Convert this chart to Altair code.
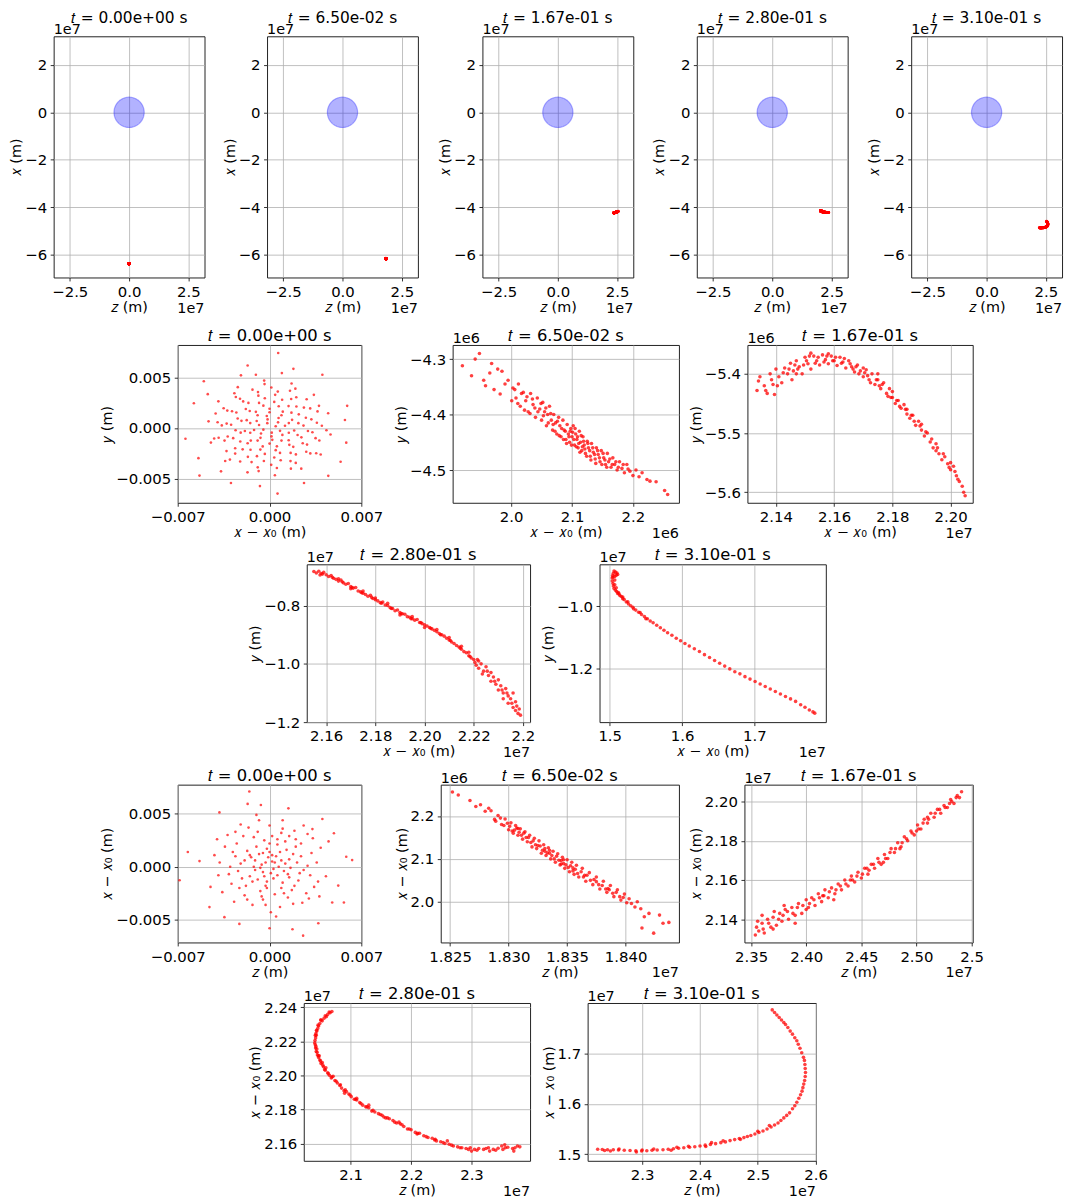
import altair as alt
import numpy as np
import pandas as pd

FONT = "DejaVu Sans"
X0 = -6.371e7          # initial x of the bunch (m)
R_EARTH = 6.371e6      # m

TITLES = ["𝑡 = 0.00e+00 s", "𝑡 = 6.50e-02 s", "𝑡 = 1.67e-01 s",
          "𝑡 = 2.80e-01 s", "𝑡 = 3.10e-01 s"]

# ---------------- t = 0 : (x - x0, y) in mm ----------------
T0_XY = [
    [0.47, 0.17], [-0.17, 0.47], [-0.47, -0.17], [0.17, -0.47],
    [0.65, 0.55], [-0.15, 0.84], [-0.80, 0.29], [-0.65, -0.55], [0.15, -0.84], [0.80, -0.29],
    [1.18, 0.21], [0.69, 0.98], [-0.21, 1.18], [-0.98, 0.69], [-1.18, -0.21], [-0.69, -0.98], [0.21, -1.18], [0.98, -0.69],
    [1.47, 0.48], [0.91, 1.25], [0.0, 1.55], [-0.91, 1.25], [-1.47, 0.48], [-1.47, -0.48], [-0.91, -1.25], [0.0, -1.55], [0.91, -1.25], [1.47, -0.48],
    [1.72, 0.80], [1.01, 1.61], [0.0, 1.90], [-1.04, 1.59], [-1.74, 0.77], [-1.88, -0.30], [-1.43, -1.25], [-0.52, -1.83], [0.56, -1.82], [1.46, -1.22], [1.88, -0.26],
    [2.20, 0.47], [1.67, 1.51], [0.70, 2.14], [-0.47, 2.20], [-1.51, 1.67], [-2.14, 0.70], [-2.20, -0.47], [-1.67, -1.51], [-0.70, -2.14], [0.47, -2.20], [1.51, -1.67], [2.14, -0.70],
    [2.59, 0.23], [2.23, 1.34], [1.45, 2.16], [0.36, 2.57], [-0.80, 2.47], [-1.81, 1.87], [-2.43, 0.93], [-2.59, -0.23], [-2.23, -1.34], [-1.45, -2.16], [-0.36, -2.57], [0.80, -2.47], [1.81, -1.87], [2.43, -0.93],
    [2.77, 1.01], [2.05, 2.12], [0.96, 2.79], [-0.36, 2.93], [-1.61, 2.47], [-2.53, 1.52], [-2.93, 0.31], [-2.77, -1.01], [-2.05, -2.12], [-0.96, -2.79], [0.36, -2.93], [1.61, -2.47], [2.53, -1.52], [2.93, -0.31],
    [3.19, 0.85], [2.62, 2.01], [1.65, 2.86], [0.43, 3.27], [-0.85, 3.19], [-2.01, 2.62], [-2.86, 1.65], [-3.27, 0.43], [-3.19, -0.85], [-2.62, -2.01], [-1.65, -2.86], [-0.43, -3.27], [0.85, -3.19], [2.01, -2.62], [2.86, -1.65], [3.27, -0.43],
    [3.61, 0.51], [3.10, 1.93], [2.04, 3.03], [0.63, 3.59], [-0.88, 3.54], [-2.25, 2.88], [-3.22, 1.71], [-3.64, 0.25], [-3.43, -1.25], [-2.62, -2.54], [-1.37, -3.38], [0.13, -3.65], [1.60, -3.28], [2.80, -2.35], [3.51, -1.01],
    [3.99, 0.21], [3.66, 1.63], [2.83, 2.83], [1.56, 3.68], [0.14, 4.00], [-1.30, 3.78], [-2.57, 3.06], [-3.50, 1.94], [-3.96, 0.56], [-3.88, -0.97], [-3.28, -2.29], [-2.24, -3.32], [-0.90, -3.90], [0.56, -3.96], [2.00, -3.46], [3.11, -2.52], [3.80, -1.24],
    [3.77, 2.18], [1.97, 3.88], [-0.38, 4.33], [-2.68, 3.43], [-4.11, 1.42], [-4.22, -1.05], [-3.02, -3.13], [-0.83, -4.27], [1.63, -4.03], [3.56, -2.50], [4.34, -0.23],
    [4.47, 1.45], [3.38, 3.27], [1.68, 4.39], [-0.41, 4.68], [-2.42, 4.03], [-3.90, 2.63], [-4.65, 0.65], [-4.47, -1.45], [-3.38, -3.27], [-1.68, -4.39], [0.41, -4.68], [2.42, -4.03], [3.90, -2.63], [4.65, -0.65],
    [0.66, 7.40], [-1.67, 6.17], [1.82, 5.84], [-2.18, 5.20], [4.03, 5.26], [-5.01, 4.61], [0.94, 5.42], [-1.04, 5.26],
    [-6.41, -1.07], [-5.77, 2.44], [5.92, 2.18], [5.75, 0.78], [5.85, -1.46], [5.42, -3.34], [-5.34, -4.71], [-2.94, -5.45],
    [-0.73, -5.75], [0.61, -6.49], [2.63, -5.45], [4.48, -4.74], [-3.70, -4.29], [-5.42, -2.99], [-4.71, 3.34],
]

# ---------------- t = 0 : (z, x - x0) in mm ----------------
T0_ZX = [
    [0.2, 0.5], [-0.8, 1.2], [1.1, -0.4], [-1.5, -0.9], [0.6, 2.1], [-2.2, 0.3], [2.4, 1.0], [-0.3, -1.8], [1.7, -2.2], [-1.2, 2.8],
    [0.9, 3.2], [-2.9, -1.6], [3.1, -0.8], [-0.5, -3.1], [2.0, 2.6], [-3.4, 1.9], [0.1, -0.6], [-0.6, 0.2], [1.5, 0.7], [-1.9, -2.7],
    [2.8, -2.5], [-2.5, 2.2], [0.4, -2.6], [-1.1, -0.3], [1.3, 1.6], [-0.2, 1.7], [2.2, -1.3], [-3.0, 0.0], [3.6, 0.4], [-1.6, 3.7],
    [0.0, 3.9], [1.9, 3.4], [-2.7, -3.3], [0.8, -3.8], [2.5, -3.4], [-3.9, -0.8], [3.9, 1.8], [-0.9, -1.2], [0.5, 1.0], [-1.4, 0.9],
    [1.0, -1.5], [-0.4, 2.5], [2.9, 0.1], [-2.1, -1.1], [1.6, -0.1], [-0.7, -2.3], [0.3, -1.1], [-1.7, 1.5], [0.7, 0.0], [-0.1, 0.9],
    [1.2, 2.4], [-2.4, -0.4], [3.3, 2.7], [-3.2, 3.0], [2.6, 3.9], [-0.8, 4.4], [1.4, -2.9], [-1.3, -3.6], [0.1, -4.3], [3.4, -1.9],
    [-4.2, 1.1], [4.3, -0.9], [-3.6, -2.4], [2.1, 0.4], [-0.5, -0.5], [0.9, 0.6], [-1.0, 1.9], [1.8, 1.2], [-2.0, 2.9], [0.2, 2.9],
    [-0.2, -2.0], [1.1, -2.5], [-2.6, 1.0], [2.3, -0.6], [-1.8, -1.8], [0.6, -0.8], [-0.3, 0.4], [1.5, -1.0], [-1.2, 0.0], [0.0, 1.4],
    [4.5, 2.4], [-4.5, -1.9], [1.0, 4.4], [-2.2, 4.0], [3.0, -3.0],
    [0.3, -0.2], [-0.4, -0.9], [0.8, 1.4], [-1.1, 0.6], [1.4, -0.7], [-0.2, -1.4], [0.6, 2.6], [-1.5, 1.1], [1.9, -1.8], [-2.3, -2.0],
    [2.6, -0.3], [-0.9, 3.3], [1.5, 2.9], [-2.8, 1.4], [3.2, 1.3], [-0.6, -2.8], [0.9, -2.0], [-1.9, 0.6], [2.0, 1.9], [-3.1, -0.7],
    [0.0, 2.2], [1.2, 0.3], [-0.7, -0.1], [0.4, 0.4], [-1.3, -1.4], [2.4, 2.2], [-3.8, 0.4], [3.7, -1.4], [-1.7, -3.1], [1.8, -3.5],
    [0.5, -4.7], [-2.6, 3.3], [2.9, 3.1], [-4.0, 2.6], [3.8, -2.8], [-0.3, -3.6], [1.0, 3.6], [-1.0, 4.9], [0.2, 1.1], [-0.5, 1.3],
    [-1.54, 7.11], [-1.67, 5.94], [-0.66, 5.84], [1.44, 5.52], [-3.82, 5.14], [-6.23, 1.40], [-6.86, -1.27], [5.85, 0.95],
    [6.30, 0.63], [5.24, -1.78], [5.67, -3.37], [4.78, -3.37], [3.72, -5.33], [2.56, -6.51], [1.75, -5.90], [0.0, -5.81],
    [-2.30, -5.40], [-3.44, -4.76], [-4.58, -3.81], [-5.34, 0.54], [4.03, 4.51], [4.91, 3.17], [3.27, 3.56],
]

# ---------------- t = 6.50e-02 s : (x - x0, y) in 1e6 m ----------------
T1_XY = [
    [1.920, -4.312], [1.935, -4.330], [1.948, -4.290], [1.941, -4.300], [1.955, -4.338], [1.965, -4.325], [1.968, -4.308],
    [1.972, -4.355], [1.978, -4.318], [1.985, -4.322], [1.990, -4.345], [1.982, -4.363], [1.995, -4.338], [1.958, -4.348],
    [2.003, -4.352], [2.008, -4.370], [2.012, -4.345], [2.015, -4.385], [2.020, -4.360], [2.024, -4.375], [2.028, -4.395],
    [2.032, -4.362], [2.036, -4.382], [2.040, -4.405], [2.043, -4.370], [2.047, -4.390], [2.050, -4.410], [2.052, -4.378],
    [2.055, -4.395], [2.058, -4.420], [2.060, -4.400], [2.063, -4.385], [2.066, -4.410], [2.068, -4.428], [2.070, -4.400],
    [2.073, -4.415], [2.075, -4.435], [2.078, -4.405], [2.080, -4.420], [2.082, -4.440], [2.085, -4.410], [2.087, -4.428],
    [2.090, -4.445], [2.092, -4.418], [2.094, -4.435], [2.096, -4.450], [2.098, -4.425], [2.100, -4.440], [2.102, -4.420],
    [2.104, -4.455], [2.106, -4.435], [2.108, -4.445], [2.110, -4.460], [2.112, -4.430], [2.114, -4.450], [2.116, -4.465],
    [2.118, -4.440], [2.120, -4.455], [2.122, -4.470], [2.125, -4.448], [2.127, -4.460], [2.130, -4.475], [2.132, -4.452],
    [2.135, -4.468], [2.138, -4.480], [2.140, -4.460], [2.143, -4.472], [2.146, -4.485], [2.148, -4.465], [2.152, -4.478],
    [2.155, -4.490], [2.158, -4.470], [2.160, -4.485], [2.164, -4.495], [2.167, -4.478], [2.170, -4.490], [2.174, -4.500],
    [2.178, -4.485], [2.182, -4.497], [2.186, -4.505], [2.190, -4.490], [2.195, -4.502], [2.200, -4.510], [2.205, -4.500],
    [2.210, -4.512], [2.215, -4.505], [2.223, -4.517], [2.228, -4.520], [2.238, -4.521], [2.252, -4.537], [2.257, -4.544],
    [2.001, -4.375], [2.006, -4.355], [2.011, -4.380], [2.017, -4.362], [2.022, -4.392], [2.026, -4.368], [2.031, -4.398],
    [2.035, -4.372], [2.039, -4.388], [2.044, -4.395], [2.049, -4.380], [2.053, -4.402], [2.057, -4.388], [2.061, -4.415],
    [2.065, -4.398], [2.069, -4.418], [2.072, -4.430], [2.076, -4.412], [2.079, -4.438], [2.083, -4.425], [2.086, -4.445],
    [2.089, -4.430], [2.091, -4.452], [2.095, -4.440], [2.097, -4.430], [2.099, -4.455], [2.101, -4.432], [2.103, -4.445],
    [2.105, -4.425], [2.107, -4.458], [2.109, -4.440], [2.111, -4.452], [2.113, -4.468], [2.115, -4.438], [2.117, -4.458],
    [2.119, -4.448], [2.121, -4.462], [2.124, -4.475], [2.126, -4.452], [2.129, -4.465], [2.131, -4.482], [2.134, -4.460],
    [2.137, -4.472], [2.139, -4.488], [2.142, -4.465], [2.145, -4.478], [2.149, -4.490], [2.151, -4.470], [2.154, -4.482],
    [2.157, -4.495], [2.162, -4.480], [2.166, -4.490], [2.172, -4.485], [2.176, -4.495], [2.184, -4.490], [2.192, -4.498],
]

# ---------------- t = 6.50e-02 s : (z in 1e7 m, x - x0 in 1e6 m) ----------------
T1_ZX = [
    [1.8252, 2.256], [1.8257, 2.249], [1.8267, 2.236], [1.8272, 2.222], [1.8276, 2.226], [1.8280, 2.211], [1.8283, 2.218],
    [1.8285, 2.212], [1.8288, 2.192], [1.8291, 2.201], [1.8294, 2.180], [1.8297, 2.193], [1.8300, 2.168], [1.8302, 2.184],
    [1.8304, 2.160], [1.8306, 2.178], [1.8308, 2.155], [1.8310, 2.170], [1.8312, 2.146], [1.8314, 2.163], [1.8316, 2.140],
    [1.8318, 2.155], [1.8320, 2.128], [1.8322, 2.148], [1.8324, 2.124], [1.8326, 2.142], [1.8328, 2.113], [1.8330, 2.133],
    [1.8332, 2.108], [1.8334, 2.126], [1.8336, 2.100], [1.8338, 2.118], [1.8340, 2.092], [1.8342, 2.112], [1.8344, 2.086],
    [1.8346, 2.104], [1.8348, 2.078], [1.8350, 2.098], [1.8352, 2.070], [1.8354, 2.092], [1.8356, 2.064], [1.8358, 2.085],
    [1.8360, 2.058], [1.8363, 2.078], [1.8366, 2.048], [1.8369, 2.068], [1.8372, 2.040], [1.8375, 2.058], [1.8378, 2.030],
    [1.8381, 2.048], [1.8384, 2.022], [1.8387, 2.038], [1.8390, 2.012], [1.8393, 2.028], [1.8396, 2.004], [1.8399, 2.018],
    [1.8315, 2.150], [1.8325, 2.131], [1.8335, 2.113], [1.8345, 2.096], [1.8355, 2.079], [1.8365, 2.062], [1.8305, 2.167],
    [1.8375, 2.047], [1.8385, 2.031], [1.8308, 2.171], [1.8331, 2.118], [1.8347, 2.089],
    [1.8403, 2.007], [1.8405, 1.996], [1.8408, 1.988], [1.8413, 1.984], [1.8416, 1.965], [1.8420, 1.973], [1.8424, 1.927],
    [1.8429, 1.969], [1.8432, 1.950], [1.8437, 1.952], [1.8414, 1.939], [1.8401, 1.998], [1.8410, 2.000],
    [1.8289, 2.188], [1.8293, 2.195], [1.8296, 2.178], [1.8299, 2.183], [1.8301, 2.176], [1.8303, 2.165], [1.8307, 2.172],
    [1.8309, 2.162], [1.8311, 2.155], [1.8313, 2.160], [1.8317, 2.150], [1.8319, 2.138], [1.8321, 2.142], [1.8323, 2.133],
    [1.8327, 2.130], [1.8329, 2.120], [1.8331, 2.124], [1.8333, 2.114], [1.8335, 2.120], [1.8337, 2.108], [1.8339, 2.100],
    [1.8341, 2.106], [1.8343, 2.097], [1.8345, 2.088], [1.8347, 2.098], [1.8349, 2.086], [1.8351, 2.080], [1.8353, 2.084],
    [1.8355, 2.072], [1.8357, 2.076], [1.8359, 2.066], [1.8362, 2.070], [1.8364, 2.058], [1.8367, 2.062], [1.8370, 2.050],
    [1.8373, 2.052], [1.8377, 2.040], [1.8380, 2.038], [1.8383, 2.030], [1.8386, 2.028], [1.8389, 2.020], [1.8392, 2.022],
    [1.8395, 2.012], [1.8398, 2.010],
]

# ---------------- t = 1.67e-01 s : (x - x0 in 1e7 m, y in 1e6 m) ----------------
T2_XY = [
    [2.1335, -5.428], [2.1340, -5.412], [2.1360, -5.420], [2.1370, -5.433], [2.1380, -5.400], [2.1390, -5.418], [2.1395, -5.435],
    [2.1400, -5.392], [2.1410, -5.405], [2.1420, -5.415], [2.1430, -5.390], [2.1440, -5.400], [2.1450, -5.382], [2.1455, -5.410],
    [2.1460, -5.395], [2.1470, -5.378], [2.1480, -5.388], [2.1490, -5.400], [2.1500, -5.372], [2.1510, -5.383], [2.1520, -5.392],
    [2.1530, -5.370], [2.1540, -5.378], [2.1550, -5.385], [2.1560, -5.368], [2.1570, -5.376], [2.1580, -5.383], [2.1590, -5.370],
    [2.1600, -5.378], [2.1610, -5.386], [2.1620, -5.372], [2.1630, -5.380], [2.1640, -5.390], [2.1650, -5.378], [2.1660, -5.388],
    [2.1670, -5.397], [2.1680, -5.385], [2.1690, -5.395], [2.1700, -5.405], [2.1710, -5.393], [2.1720, -5.410], [2.1730, -5.400],
    [2.1740, -5.418], [2.1750, -5.410], [2.1760, -5.425], [2.1770, -5.415], [2.1780, -5.433], [2.1790, -5.425], [2.1800, -5.440],
    [2.1810, -5.450], [2.1820, -5.445], [2.1830, -5.458], [2.1840, -5.452], [2.1850, -5.468], [2.1860, -5.475], [2.1870, -5.470],
    [2.1880, -5.487], [2.1890, -5.480], [2.1900, -5.495], [2.1910, -5.505], [2.1920, -5.500], [2.1930, -5.515], [2.1940, -5.525],
    [2.1950, -5.518], [2.1960, -5.535], [2.1970, -5.545], [2.1980, -5.540], [2.1990, -5.552], [2.2000, -5.562], [2.2010, -5.556],
    [2.2020, -5.572], [2.2030, -5.582], [2.2040, -5.590], [2.2045, -5.600], [2.2050, -5.606],
    [2.1470, -5.400], [2.1520, -5.365], [2.1580, -5.366], [2.1700, -5.390], [2.1750, -5.400], [2.1800, -5.430], [2.1850, -5.460],
    [2.1900, -5.485], [2.1950, -5.530], [2.2000, -5.550],
    [2.1345, -5.405], [2.1365, -5.428], [2.1385, -5.410], [2.1405, -5.420], [2.1425, -5.398], [2.1445, -5.392], [2.1465, -5.385],
    [2.1475, -5.392], [2.1495, -5.385], [2.1505, -5.378], [2.1515, -5.370], [2.1535, -5.382], [2.1545, -5.372], [2.1565, -5.380],
    [2.1575, -5.370], [2.1595, -5.378], [2.1605, -5.372], [2.1625, -5.382], [2.1635, -5.374], [2.1655, -5.383], [2.1665, -5.392],
    [2.1675, -5.388], [2.1685, -5.400], [2.1705, -5.398], [2.1715, -5.403], [2.1725, -5.415], [2.1745, -5.410], [2.1755, -5.420],
    [2.1765, -5.418], [2.1785, -5.438], [2.1795, -5.440], [2.1815, -5.445], [2.1825, -5.455], [2.1845, -5.460], [2.1865, -5.470],
    [2.1875, -5.480], [2.1895, -5.488], [2.1915, -5.498], [2.1935, -5.510], [2.1955, -5.525], [2.1975, -5.535], [2.1995, -5.558],
    [2.2015, -5.565], [2.2025, -5.578],
]

# ---------------- t = 1.67e-01 s : (z, x - x0) in 1e7 m ----------------
T2_ZX = [
    [2.3539, 2.132], [2.355, 2.136], [2.357, 2.134], [2.360, 2.138], [2.362, 2.133], [2.365, 2.140], [2.368, 2.136], [2.370, 2.141],
    [2.373, 2.137], [2.376, 2.143], [2.378, 2.139], [2.381, 2.145], [2.384, 2.140], [2.387, 2.146], [2.390, 2.142], [2.393, 2.148],
    [2.396, 2.143], [2.400, 2.150], [2.402, 2.146], [2.405, 2.151], [2.408, 2.147], [2.411, 2.153], [2.414, 2.149], [2.417, 2.155],
    [2.420, 2.151], [2.423, 2.156], [2.426, 2.153], [2.429, 2.158], [2.432, 2.155], [2.435, 2.160], [2.438, 2.157], [2.441, 2.162],
    [2.444, 2.159], [2.447, 2.164], [2.450, 2.161], [2.453, 2.166], [2.456, 2.163], [2.459, 2.168], [2.462, 2.166], [2.465, 2.171],
    [2.468, 2.168], [2.471, 2.173], [2.474, 2.171], [2.477, 2.176], [2.480, 2.174], [2.483, 2.179], [2.486, 2.177], [2.489, 2.182],
    [2.492, 2.180], [2.495, 2.185], [2.498, 2.183], [2.501, 2.188], [2.504, 2.186], [2.507, 2.191], [2.510, 2.189], [2.513, 2.194],
    [2.516, 2.192], [2.519, 2.196], [2.522, 2.194], [2.525, 2.198], [2.528, 2.197], [2.531, 2.201], [2.534, 2.199], [2.537, 2.203],
    [2.539, 2.202], [2.5409, 2.205],
    [2.360, 2.142], [2.370, 2.135], [2.380, 2.147], [2.390, 2.138], [2.400, 2.145], [2.415, 2.152], [2.425, 2.150], [2.440, 2.160],
    [2.455, 2.166], [2.470, 2.169], [2.485, 2.176], [2.500, 2.185], [2.510, 2.192], [2.530, 2.199],
    [2.356, 2.139], [2.361, 2.135], [2.366, 2.138], [2.371, 2.144], [2.375, 2.140], [2.379, 2.142], [2.383, 2.144], [2.388, 2.143],
    [2.392, 2.146], [2.397, 2.147], [2.403, 2.148], [2.407, 2.150], [2.412, 2.151], [2.416, 2.152], [2.421, 2.154], [2.427, 2.155],
    [2.431, 2.157], [2.436, 2.158], [2.442, 2.160], [2.446, 2.162], [2.451, 2.163], [2.457, 2.165], [2.461, 2.168], [2.466, 2.169],
    [2.472, 2.171], [2.476, 2.174], [2.481, 2.176], [2.487, 2.179], [2.491, 2.181], [2.496, 2.184], [2.502, 2.186], [2.506, 2.189],
    [2.511, 2.191], [2.517, 2.194], [2.521, 2.196], [2.526, 2.197], [2.532, 2.200], [2.536, 2.202],
]

# ---------------- t = 2.80e-01 s : (x - x0, y) in 1e7 m ----------------
T3_XY = [
    [2.155, -0.683], [2.156, -0.688], [2.157, -0.682], [2.158, -0.690], [2.159, -0.686], [2.1575, -0.695], [2.160, -0.694],
    [2.161, -0.700], [2.162, -0.697], [2.163, -0.706], [2.164, -0.710], [2.165, -0.716], [2.166, -0.712], [2.167, -0.722],
    [2.168, -0.727], [2.169, -0.724], [2.170, -0.735], [2.171, -0.740], [2.172, -0.738], [2.173, -0.750], [2.174, -0.753],
    [2.175, -0.750], [2.176, -0.762], [2.177, -0.768], [2.178, -0.765], [2.179, -0.776], [2.180, -0.780], [2.181, -0.784],
    [2.182, -0.790], [2.183, -0.788], [2.184, -0.798], [2.185, -0.800], [2.186, -0.807], [2.187, -0.810], [2.188, -0.818],
    [2.189, -0.815], [2.190, -0.824], [2.191, -0.828], [2.192, -0.830], [2.193, -0.838], [2.194, -0.840], [2.195, -0.845],
    [2.196, -0.850], [2.197, -0.848], [2.198, -0.858], [2.199, -0.862], [2.200, -0.866], [2.201, -0.870], [2.202, -0.875],
    [2.203, -0.880], [2.204, -0.885], [2.205, -0.890], [2.206, -0.896], [2.207, -0.900], [2.208, -0.905], [2.209, -0.912],
    [2.210, -0.918], [2.211, -0.925], [2.212, -0.930], [2.213, -0.937], [2.214, -0.942], [2.215, -0.950], [2.216, -0.958],
    [2.217, -0.962], [2.218, -0.972], [2.219, -0.980], [2.220, -0.985],
    [2.221, -1.005], [2.222, -0.990], [2.222, -1.015], [2.223, -1.000], [2.224, -1.025], [2.225, -1.010], [2.226, -1.040],
    [2.227, -1.030], [2.227, -1.060], [2.228, -1.045], [2.229, -1.070], [2.230, -1.055], [2.230, -1.090], [2.231, -1.075],
    [2.232, -1.100], [2.232, -1.120], [2.233, -1.085], [2.234, -1.110], [2.234, -1.135], [2.235, -1.120], [2.236, -1.150],
    [2.236, -1.100], [2.237, -1.160], [2.237, -1.130], [2.238, -1.170], [2.2385, -1.155], [2.239, -1.176],
    [2.165, -0.708], [2.170, -0.742], [2.175, -0.758], [2.180, -0.774], [2.185, -0.792], [2.190, -0.832], [2.195, -0.838],
    [2.200, -0.875], [2.205, -0.882], [2.210, -0.910], [2.215, -0.940], [2.218, -0.960],
    [2.1585, -0.692], [2.1625, -0.703], [2.1665, -0.718], [2.1705, -0.738], [2.1745, -0.756], [2.1785, -0.772], [2.1825, -0.792],
    [2.1865, -0.810], [2.1905, -0.828], [2.1945, -0.845], [2.1985, -0.858], [2.2025, -0.878], [2.2065, -0.900], [2.2105, -0.920],
    [2.2145, -0.946], [2.2185, -0.975], [2.2205, -0.995], [2.2215, -0.985], [2.2235, -1.035], [2.2255, -1.025], [2.2285, -1.060],
    [2.2315, -1.090], [2.2335, -1.100], [2.2355, -1.135], [2.2375, -1.145],
]

# ---------------- t = 2.80e-01 s : (z, x - x0) in 1e7 m ----------------
T3_ZX = [
    [2.069, 2.2375], [2.066, 2.2368], [2.062, 2.2358], [2.060, 2.2345], [2.056, 2.2335], [2.053, 2.2320], [2.051, 2.2325],
    [2.049, 2.2305], [2.047, 2.2290], [2.0455, 2.2275], [2.044, 2.2260], [2.043, 2.2235], [2.042, 2.2220], [2.0425, 2.2245],
    [2.041, 2.2205], [2.0415, 2.2180], [2.042, 2.2160], [2.043, 2.2140], [2.044, 2.2155], [2.045, 2.2120], [2.047, 2.2105],
    [2.049, 2.2090], [2.048, 2.2115], [2.051, 2.2070], [2.053, 2.2075], [2.055, 2.2050], [2.057, 2.2035], [2.059, 2.2045],
    [2.062, 2.2015], [2.065, 2.2000], [2.068, 2.1985], [2.071, 2.1995], [2.074, 2.1970], [2.078, 2.1955], [2.082, 2.1940],
    [2.085, 2.1925], [2.089, 2.1910], [2.093, 2.1905], [2.097, 2.1890], [2.101, 2.1875], [2.106, 2.1860], [2.110, 2.1855],
    [2.115, 2.1840], [2.120, 2.1825], [2.125, 2.1815], [2.130, 2.1810], [2.135, 2.1790], [2.140, 2.1785], [2.146, 2.1775],
    [2.152, 2.1765], [2.158, 2.1750], [2.164, 2.1745], [2.170, 2.1735], [2.176, 2.1720], [2.182, 2.1715], [2.188, 2.1700],
    [2.194, 2.1685], [2.200, 2.1680], [2.207, 2.1665], [2.214, 2.1660], [2.221, 2.1645], [2.228, 2.1635], [2.235, 2.1630],
    [2.242, 2.1615], [2.249, 2.1610], [2.256, 2.1600], [2.263, 2.1595], [2.270, 2.1585], [2.277, 2.1580], [2.284, 2.1575],
    [2.291, 2.1570], [2.298, 2.1575], [2.305, 2.1565], [2.312, 2.1570], [2.320, 2.1565], [2.328, 2.1575], [2.336, 2.1565],
    [2.344, 2.1572], [2.352, 2.1565], [2.360, 2.1578], [2.368, 2.1570], [2.376, 2.1585], [2.380, 2.1580],
    [2.260, 2.1615], [2.300, 2.1555], [2.330, 2.1555], [2.350, 2.1585], [2.370, 2.1555], [2.355, 2.1592],
    [2.090, 2.1895], [2.110, 2.1865], [2.130, 2.1825], [2.155, 2.1755], [2.180, 2.1725], [2.210, 2.1655], [2.240, 2.1625],
    [2.0645, 2.2372], [2.058, 2.2350], [2.0505, 2.2325], [2.046, 2.2295], [2.0435, 2.2265], [2.0415, 2.2235], [2.0405, 2.2190],
    [2.0425, 2.2170], [2.0445, 2.2135], [2.0465, 2.2115], [2.050, 2.2085], [2.054, 2.2060], [2.058, 2.2030], [2.063, 2.2010],
    [2.069, 2.1990], [2.076, 2.1965], [2.083, 2.1945], [2.091, 2.1915], [2.099, 2.1885], [2.108, 2.1860], [2.117, 2.1835],
    [2.127, 2.1815], [2.137, 2.1795], [2.149, 2.1770], [2.161, 2.1750], [2.173, 2.1725], [2.185, 2.1710], [2.197, 2.1685],
    [2.211, 2.1660], [2.225, 2.1640], [2.239, 2.1620], [2.253, 2.1605], [2.267, 2.1590], [2.281, 2.1575], [2.295, 2.1565],
    [2.309, 2.1560], [2.324, 2.1570], [2.340, 2.1560], [2.356, 2.1575], [2.372, 2.1575],
]

# ---------------- t = 3.10e-01 s : (x - x0, y) in 1e7 m ----------------
T4_XY = [
    [1.506, -0.886], [1.508, -0.889], [1.510, -0.892], [1.511, -0.897], [1.509, -0.899], [1.505, -0.893], [1.504, -0.900],
    [1.5035, -0.908], [1.5045, -0.905], [1.507, -0.903], [1.5035, -0.918], [1.5045, -0.926], [1.505, -0.934], [1.507, -0.930],
    [1.506, -0.942], [1.508, -0.948], [1.5095, -0.952], [1.511, -0.958], [1.512, -0.955], [1.514, -0.965], [1.516, -0.968],
    [1.518, -0.975], [1.520, -0.978], [1.523, -0.986], [1.526, -0.992], [1.529, -0.998], [1.532, -1.003], [1.536, -1.012],
    [1.540, -1.019], [1.544, -1.026], [1.548, -1.033], [1.552, -1.040], [1.556, -1.047], [1.560, -1.053], [1.565, -1.061],
    [1.570, -1.069], [1.575, -1.077], [1.580, -1.085], [1.586, -1.093], [1.592, -1.103], [1.598, -1.111], [1.604, -1.120],
    [1.610, -1.128], [1.617, -1.137], [1.624, -1.146], [1.631, -1.156], [1.638, -1.165], [1.645, -1.175], [1.652, -1.184],
    [1.659, -1.193], [1.666, -1.202], [1.673, -1.211], [1.680, -1.218], [1.687, -1.227], [1.694, -1.235], [1.701, -1.243],
    [1.708, -1.251], [1.715, -1.259], [1.722, -1.267], [1.729, -1.275], [1.736, -1.283], [1.743, -1.291], [1.750, -1.299],
    [1.757, -1.307], [1.764, -1.318], [1.770, -1.326], [1.776, -1.335], [1.781, -1.341], [1.7835, -1.345],
    [1.507, -0.915], [1.509, -0.940], [1.513, -0.960], [1.518, -0.970], [1.525, -0.985], [1.533, -1.008], [1.542, -1.020],
    [1.550, -1.040],
]

# ---------------- t = 3.10e-01 s : (z, x - x0) in 1e7 m ----------------
T4_ZX = [
    [2.525, 1.786], [2.529, 1.781], [2.533, 1.776], [2.537, 1.771], [2.541, 1.766], [2.545, 1.761], [2.548, 1.757],
    [2.552, 1.751], [2.556, 1.744], [2.560, 1.738], [2.564, 1.731], [2.5675, 1.725],
    [2.570, 1.718], [2.573, 1.710], [2.576, 1.701], [2.579, 1.692], [2.5807, 1.686],
    [2.5815, 1.678], [2.582, 1.670], [2.5825, 1.662], [2.582, 1.654],
    [2.581, 1.646], [2.5795, 1.639], [2.578, 1.632], [2.5765, 1.625],
    [2.574, 1.618], [2.571, 1.611], [2.5675, 1.603],
    [2.564, 1.596], [2.560, 1.590], [2.555, 1.582],
    [2.550, 1.577], [2.545, 1.572], [2.540, 1.567], [2.535, 1.562],
    [2.529, 1.558], [2.523, 1.554], [2.516, 1.550], [2.509, 1.546],
    [2.502, 1.543], [2.495, 1.540], [2.488, 1.537], [2.482, 1.535], [2.476, 1.533],
    [2.468, 1.531], [2.460, 1.529], [2.452, 1.527], [2.444, 1.5245], [2.436, 1.523],
    [2.427, 1.521], [2.418, 1.5195], [2.409, 1.518], [2.400, 1.5165], [2.391, 1.515],
    [2.382, 1.514], [2.372, 1.513], [2.363, 1.512], [2.354, 1.511], [2.345, 1.510],
    [2.336, 1.509], [2.326, 1.5085], [2.317, 1.508], [2.308, 1.507], [2.299, 1.5065],
    [2.289, 1.507], [2.279, 1.5075], [2.269, 1.508], [2.259, 1.5085], [2.250, 1.5088], [2.240, 1.509], [2.231, 1.5095], [2.223, 1.510],
    [2.470, 1.5295], [2.440, 1.5265], [2.410, 1.5155], [2.380, 1.516], [2.350, 1.508], [2.320, 1.5105], [2.290, 1.5045],
    [2.260, 1.5105], [2.245, 1.5065], [2.500, 1.5455], [2.520, 1.557], [2.420, 1.523], [2.360, 1.514], [2.300, 1.5085], [2.235, 1.5075],
]

# unit of each (z, x - x0) list in metres
ZX_UNITS = [(1e-3, 1e-3), (1e7, 1e6), (1e7, 1e7), (1e7, 1e7), (1e7, 1e7)]
ZX_DATA = [T0_ZX, T1_ZX, T2_ZX, T3_ZX, T4_ZX]


# ---------------------------------------------------------------- helpers
def txt(s, x, y, align="center", size=14.5):
    return alt.Chart(pd.DataFrame({"s": [s]})).mark_text(
        align=align, baseline="alphabetic", fontSize=size, font=FONT, color="black"
    ).encode(text="s:N", x=alt.value(x), y=alt.value(y))


def fmt(spec):
    return "format(datum.value, '%s')" % spec


def panel(pts, w, h, xdom, ydom, xticks, yticks, xlab, ylab, xtitle, ytitle,
          title, title_y, off_top=None, off_bot=None, off_bot_y=35,
          size=13, opacity=0.75, extra=None, title_size=16.5):
    df = pd.DataFrame(pts, columns=["a", "b"])
    xenc = alt.X("a:Q", scale=alt.Scale(domain=xdom, nice=False, zero=False),
                 axis=alt.Axis(values=xticks, labelExpr=xlab, title=xtitle))
    yenc = alt.Y("b:Q", scale=alt.Scale(domain=ydom, nice=False, zero=False),
                 axis=alt.Axis(values=yticks, labelExpr=ylab, title=ytitle))
    layers = []
    if extra:
        for ex in extra:
            layers.append(ex(xenc, yenc))
    layers.append(alt.Chart(df).mark_circle(size=size, color="red", opacity=opacity, clip=True)
                  .encode(x=xenc, y=yenc))
    layers.append(txt(title, w / 2, title_y, "center", title_size))
    if off_top:
        layers.append(txt(off_top, 0, -2, "left"))
    if off_bot:
        layers.append(txt(off_bot, w, h + off_bot_y, "right"))
    return alt.layer(*layers).properties(
        width=w, height=h, view=alt.ViewBackground(stroke="#222", strokeWidth=1))


def spacer(w, h, top, bottom, left=0):
    return alt.Chart(pd.DataFrame({"v": [0]})).mark_rule(opacity=0, strokeOpacity=0).encode(
        x=alt.value(-left), y=alt.value(-top), y2=alt.value(h + bottom)
    ).properties(width=w, height=h)


def row(offset, panels, gaps, h, top, bottom):
    items = [spacer(offset, h, top, bottom, 50)]
    for i, p in enumerate(panels):
        if i > 0:
            items.append(spacer(gaps[i - 1], h, top, bottom))
        items.append(p)
    return alt.hconcat(*items, spacing=0, bounds="flush")


# ---------------------------------------------------------------- Earth disc
R = R_EARTH / 1e7
th = np.linspace(0, np.pi, 61)
EARTH_FILL = pd.DataFrame({"a": -R * np.cos(th), "b": -R * np.sin(th), "b2": R * np.sin(th)})
ph = np.linspace(0, 2 * np.pi, 121)
EARTH_EDGE = pd.DataFrame({"a": R * np.cos(ph), "b": R * np.sin(ph), "o": np.arange(121)})


def earth_fill(xenc, yenc):
    return alt.Chart(EARTH_FILL).mark_area(color="blue", opacity=0.3).encode(
        x=xenc, y=yenc, y2="b2:Q")


def earth_edge(xenc, yenc):
    return alt.Chart(EARTH_EDGE).mark_line(color="blue", opacity=0.3, strokeWidth=1.2).encode(
        x=xenc, y=yenc, order="o:Q")


# ---------------------------------------------------------------- row 1: (z, x)
top_panels = []
for k in range(5):
    zs, ds = ZX_UNITS[k]
    pts = [[z * zs / 1e7, (d * ds + X0) / 1e7] for z, d in ZX_DATA[k]]
    top_panels.append(panel(
        pts, 152, 243, [-3.18, 3.18], [-6.95, 3.2], [-2.5, 0, 2.5], [-6, -4, -2, 0, 2],
        fmt(".1f"), fmt("d"), "𝑧 (m)", "𝑥 (m)", TITLES[k], -13.5,
        off_top="1e7", off_bot="1e7", off_bot_y=36, size=9, opacity=0.8,
        extra=[earth_fill, earth_edge], title_size=15.5))

MM = "format(datum.value / 1000, '.3f')"
XT = "𝑥 − 𝑥₀ (m)"

p21 = panel(T0_XY, 185, 159, [-7, 7], [-7.4, 8.2], [-7, 0, 7], [-5, 0, 5], MM, MM,
            XT, "𝑦 (m)", TITLES[0], -4, size=7, opacity=0.7)
p22 = panel(T1_XY, 228, 159, [1.904, 2.2755], [-4.559, -4.2745], [2.0, 2.1, 2.2], [-4.5, -4.4, -4.3],
            fmt(".1f"), fmt(".1f"), XT, "𝑦 (m)", TITLES[1], -4, off_top="1e6", off_bot="1e6")
p23 = panel(T2_XY, 227, 159, [2.1302, 2.2076], [-5.6178, -5.3512], [2.14, 2.16, 2.18, 2.20], [-5.6, -5.5, -5.4],
            fmt(".2f"), fmt(".1f"), XT, "𝑦 (m)", TITLES[2], -4, off_top="1e6", off_bot="1e7")

p31 = panel(T3_XY, 225, 159, [2.1521, 2.2429], [-1.2, -0.6584], [2.16, 2.18, 2.20, 2.22, 2.24], [-1.2, -1.0, -0.8],
            "datum.value > 2.235 ? '2.2' : format(datum.value, '.2f')", fmt(".1f"), XT, "𝑦 (m)",
            TITLES[3], -4, off_top="1e7", off_bot="1e7")
p32 = panel(T4_XY, 228, 159, [1.4859, 1.7988], [-1.374, -0.864], [1.5, 1.6, 1.7], [-1.2, -1.0],
            fmt(".1f"), fmt(".1f"), XT, "𝑦 (m)", TITLES[4], -4, off_top="1e7", off_bot="1e7")

p41 = panel(T0_ZX, 185, 159, [-7, 7], [-7.15, 7.76], [-7, 0, 7], [-5, 0, 5], MM, MM,
            "𝑧 (m)", XT, TITLES[0], -4, size=7, opacity=0.7)
p42 = panel(T1_ZX, 240, 159, [1.8242, 1.84456], [1.9053, 2.273], [1.825, 1.830, 1.835, 1.840], [2.0, 2.1, 2.2],
            fmt(".3f"), fmt(".1f"), "𝑧 (m)", XT, TITLES[1], -4, off_top="1e6", off_bot="1e7")
p43 = panel(T2_ZX, 230, 159, [2.344, 2.551], [2.1282, 2.2086], [2.35, 2.40, 2.45, 2.50, 2.55], [2.14, 2.16, 2.18, 2.20],
            "datum.value > 2.545 ? '2.5' : format(datum.value, '.2f')", fmt(".2f"), "𝑧 (m)", XT,
            TITLES[2], -4, off_top="1e7", off_bot="1e7")

p51 = panel(T3_ZX, 228, 159, [2.0224, 2.3969], [2.1498, 2.2425], [2.1, 2.2, 2.3], [2.16, 2.18, 2.20, 2.22, 2.24],
            fmt(".1f"), fmt(".2f"), "𝑧 (m)", XT, TITLES[3], -4, off_top="1e7", off_bot="1e7")
p52 = panel(T4_ZX, 230, 159, [2.2056, 2.6005], [1.487, 1.7997], [2.3, 2.4, 2.5, 2.6], [1.5, 1.6, 1.7],
            fmt(".1f"), fmt(".1f"), "𝑧 (m)", XT, TITLES[4], -4, off_top="1e7", off_bot="1e7")

rows = [
    row(1, top_panels, [63, 65, 64, 64], 243, 40, 66),
    row(126, [p21, p22, p23], [92, 69], 159, 40, 60),
    row(256, [p31, p32], [70], 159, 40, 61),
    row(126, [p41, p42, p43], [80, 66], 159, 40, 59),
    row(253, [p51, p52], [58], 159, 40, 36),
]

chart = alt.vconcat(*rows, spacing=-40).properties(
    padding={"left": -6, "top": -17, "right": 4, "bottom": 0}
).configure_view(stroke="transparent").configure_axis(
    labelFont=FONT, titleFont=FONT, labelFontSize=15, titleFontSize=14.5,
    labelColor="black", titleColor="black", titleFontWeight="normal",
    tickColor="black", tickSize=3.5, tickWidth=0.8, labelPadding=3.5,
    domain=False, gridColor="#b0b0b0", gridWidth=0.8,
    labelFlush=False, labelOverlap=False,
).configure_axisX(titlePadding=1).configure_axisY(titlePadding=1)

chart.save("out.html", embed_options={"renderer": "svg", "actions": False})
